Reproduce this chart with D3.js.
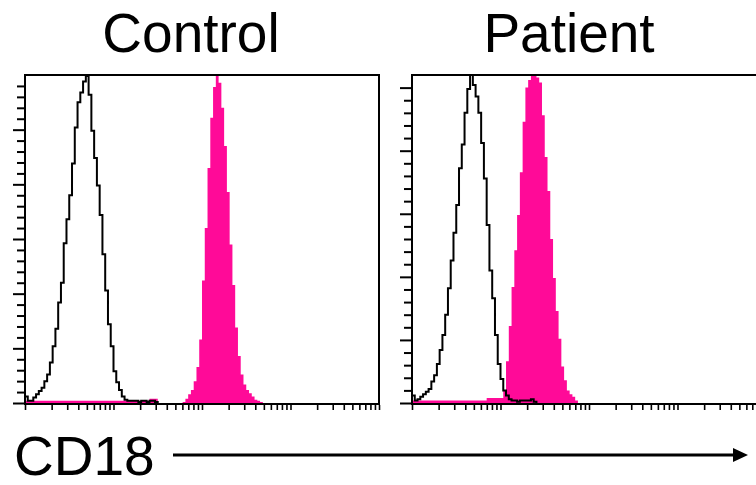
<!DOCTYPE html>
<html>
<head>
<meta charset="utf-8">
<script src="https://cdn.jsdelivr.net/npm/d3@7"></script>
<style>
body { margin: 0; background: #fff; }
svg { display: block; font-family: "Liberation Sans", Arial, sans-serif; }
</style>
</head>
<body>
<div id="chart"></div>
<script>
// histogram channels: 32 bins per decade over 10^0 .. 10^4
const binsPerDecade = 32;
const xDomain = [1, 10000];

// counts per bin, starting at bin 0
const ctrlIso = [6,2,2,5,8,11,14,20,26,37,52,68,92,110,146,168,190,219,252,275,284,294,299,282,249,224,199,172,136,103,72,52,29,19,12,6,3,2,2,2,2,1,2,2,1,2,2,1];
const ctrlCd18 = [2,2,2,2,2,2,2,2,2,2,2,2,2,2,2,2,2,2,2,2,2,2,2,2,2,2,2,2,2,2,2,2,2,2,2,2,2,2,2,2,2,2,2,2,2,4,4,4,
  0,0,0,0,0,0,0,0,0,1,4,8,12,20,33,58,112,160,215,261,289,300,293,270,235,193,145,108,69,43,26,17,12,9,6,3,2,1];
const patIso = [6,2,3,5,7,9,11,17,22,31,42,54,70,91,113,135,157,186,205,230,249,260,252,243,230,206,178,141,105,83,54,31,19,10,6,3,2,2,1,2,2,2,2,3,1];
const patCd18 = [2,2,2,2,2,2,2,2,2,2,2,2,2,2,2,2,2,2,2,2,2,2,2,2,2,2,2,4,4,4,4,4,4,
  10,33,61,92,121,149,183,223,250,256,260,260,258,254,228,195,168,130,99,73,51,29,18,10,7,5,2];

const titles = ["Control", "Patient"];
const yMaxes = [300, 260];
const yTickStep = 10;
const yMajorStep = 50;
const axisLabel = "CD18";

const pink = "#ff0a98";
const W = 756, H = 485;
const panelW = 354, plotTop = 75, plotBottom = 403;

const svg = d3.select("#chart").append("svg").attr("width", W).attr("height", H);

const panels = [
  {x0: 25, iso: ctrlIso, cd18: ctrlCd18, titleX: 191},
  {x0: 412, iso: patIso, cd18: patCd18, titleX: 569}
];

panels.forEach((p, k) => {
  const x = d3.scaleLog().domain(xDomain).range([p.x0, p.x0 + panelW]);
  const y = d3.scaleLinear().domain([0, yMaxes[k]]).range([plotBottom, plotTop]);
  const g = svg.append("g");

  const edge = i => x(Math.pow(10, i / binsPerDecade));
  const steps = counts => {
    const pts = [[edge(0), y(0)]];
    counts.forEach((c, i) => {
      pts.push([edge(i), y(c)], [edge(i + 1), y(c)]);
    });
    pts.push([edge(counts.length), y(0)]);
    return pts;
  };

  g.append("path")
    .attr("d", d3.line()(steps(p.cd18)) + "Z")
    .attr("fill", pink);

  g.append("path")
    .attr("d", d3.line()(steps(p.iso).slice(1)))
    .attr("fill", "none")
    .attr("stroke", "#000")
    .attr("stroke-width", 2)
    .attr("stroke-linejoin", "miter");

  // frame
  g.append("rect")
    .attr("x", p.x0).attr("y", plotTop)
    .attr("width", panelW).attr("height", 404 - plotTop)
    .attr("fill", "none").attr("stroke", "#000").attr("stroke-width", 2);

  // y ticks (outward, long every 50)
  const ya = g.append("g")
    .attr("transform", `translate(${p.x0 - 1},0)`)
    .call(d3.axisLeft(y).tickValues(d3.range(0, yMaxes[k], yTickStep)).tickSize(7).tickFormat(""));
  ya.select(".domain").remove();
  ya.selectAll(".tick line")
    .attr("stroke-width", 2)
    .attr("x2", d => d % yMajorStep === 0 ? -11 : -7);

  // x ticks (log)
  const xa = g.append("g")
    .attr("transform", `translate(0,405)`)
    .call(d3.axisBottom(x).tickSize(5).tickFormat(""));
  xa.select(".domain").remove();
  xa.selectAll(".tick line").attr("stroke-width", 1.6);

  svg.append("text")
    .attr("x", p.titleX).attr("y", 52)
    .attr("text-anchor", "middle")
    .attr("font-size", 55)
    .text(titles[k]);
});

svg.append("text")
  .attr("x", 14).attr("y", 475)
  .attr("font-size", 55)
  .text(axisLabel);

svg.append("line")
  .attr("x1", 173).attr("x2", 736)
  .attr("y1", 455).attr("y2", 455)
  .attr("stroke", "#000").attr("stroke-width", 3);
svg.append("path")
  .attr("d", "M733,448L748,455L733,462Z")
  .attr("fill", "#000");
</script>
</body>
</html>
